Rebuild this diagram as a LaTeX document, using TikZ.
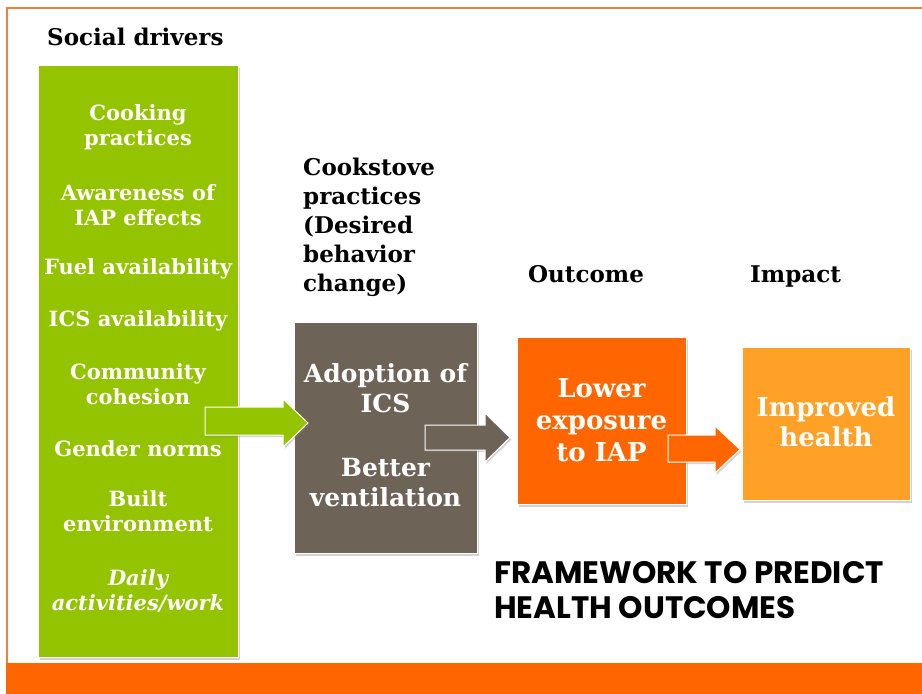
\documentclass[tikz,border=0pt]{standalone}
\usepackage{fontspec}
\setmainfont{DejaVu Serif}
\newfontfamily\titlefont{Poppins}
\usetikzlibrary{shadows}

\definecolor{drvgreen}{RGB}{148,195,0}
\definecolor{stovebrown}{RGB}{110,99,87}
\definecolor{outorange}{RGB}{255,102,0}
\definecolor{impactorange}{RGB}{255,161,38}
\definecolor{framecol}{RGB}{240,128,64}

\tikzset{
  block/.style={minimum width=#1, inner sep=0pt, draw=white, line width=0.8pt,
    drop shadow={shadow xshift=2pt, shadow yshift=-2.5pt, opacity=0.35}},
  boxtext/.style={text=white, font=\fontsize{21}{25}\selectfont\bfseries, align=center, inner sep=0pt},
  headtext/.style={font=\fontsize{23}{29}\selectfont\bfseries, inner sep=0pt},
  fatarrow/.style={draw=white, line width=1pt,
    drop shadow={shadow xshift=1.5pt, shadow yshift=-2pt, opacity=0.35}}
}

\begin{document}
\begin{tikzpicture}[x=1pt,y=-1pt]
\useasboundingbox (0,0) rectangle (922,694);
% frame and bottom band
\draw [framecol, line width=2pt] (7,694) -- (7,8) -- (922,8);
\fill [outorange] (6,663) rectangle (922,694);

% boxes
\node [block=200pt, minimum height=592pt, fill=drvgreen] (drivers) at (138,361) {};
\node [block=183pt, minimum height=231pt, fill=stovebrown] (stove) at (385.5,437.5) {};
\node [block=169pt, minimum height=167pt, fill=outorange] (outcome) at (601.5,420.5) {};
\node [block=168pt, minimum height=153pt, fill=impactorange] (impact) at (826,423.5) {};

% block arrows
\filldraw [fatarrow, fill=drvgreen] (205,407) -- (283,407) -- (283,399) -- (308,423)
  -- (283,447) -- (283,435) -- (205,435) -- cycle;
\filldraw [fatarrow, fill=stovebrown] (425,425) -- (485,425) -- (485,413) -- (510,437.5)
  -- (485,462) -- (485,450) -- (425,450) -- cycle;
\filldraw [fatarrow, fill=outorange] (668,435) -- (715,435) -- (715,426) -- (740,449.5)
  -- (715,473) -- (715,462) -- (668,462) -- cycle;

% social drivers
\node [boxtext] (cook) at (138,127.5) {Cooking\\practices};
\node [boxtext] (aware) at (138,205.5) {Awareness of\\IAP effects};
\node [boxtext] (fuel) at (138,269) {Fuel availability};
\node [boxtext] (ics) at (138,321) {ICS availability};
\node [boxtext] (comm) at (138,384.5) {Community\\cohesion};
\node [boxtext] (gender) at (138,449) {Gender norms};
\node [boxtext] (built) at (138,511.5) {Built\\environment};
\node [boxtext, font=\fontsize{21}{25}\selectfont\bfseries\itshape] (daily) at (138,590.5) {Daily\\activities/work};

% practices, outcome, impact
\node [boxtext, font=\fontsize{25}{30}\selectfont\bfseries] (adopt) at (385.5,388) {Adoption of\\ICS};
\node [boxtext, font=\fontsize{25}{30}\selectfont\bfseries] (vent) at (385.5,483) {Better\\ventilation};
\node [boxtext, font=\fontsize{26}{32}\selectfont\bfseries] (lower) at (601.5,420) {Lower\\exposure\\to IAP};
\node [boxtext, font=\fontsize{26}{30}\selectfont\bfseries] (better) at (826,422) {Improved\\health};

% column headings
\node [headtext, anchor=west] (sochead) at (47,37) {Social drivers};
\node [headtext, align=left, anchor=west] (stovehead) at (303,227.5)
  {Cookstove\\practices\\(Desired\\behavior\\change)};
\node [headtext, anchor=base west] (outhead) at (528,282) {Outcome};
\node [headtext, anchor=base west] (imphead) at (750,282) {Impact};

% title
\node [font=\titlefont\fontsize{31}{35}\selectfont\bfseries, align=left, anchor=west, inner sep=0pt]
  (title) at (494,590.5) {FRAMEWORK TO PREDICT\\HEALTH OUTCOMES};
\end{tikzpicture}
\end{document}
